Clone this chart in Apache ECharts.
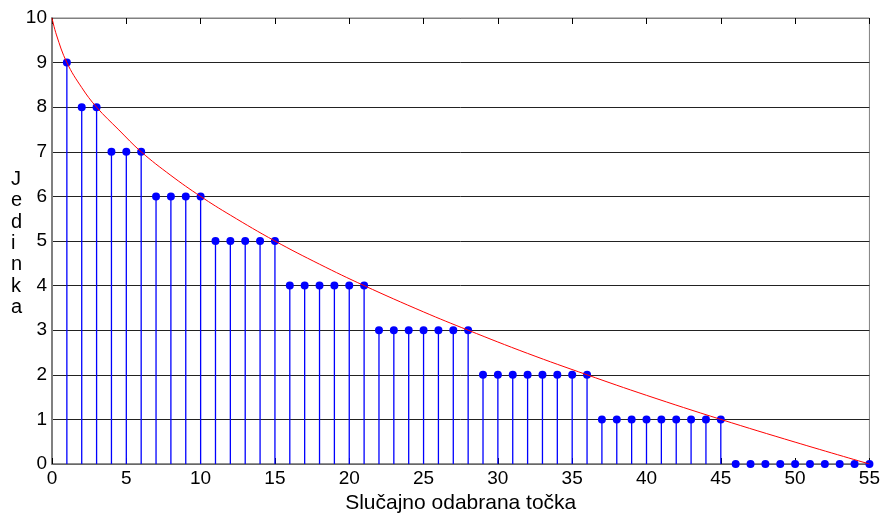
<!DOCTYPE html>
<html>
<head>
<meta charset="utf-8">
<script src="https://cdn.jsdelivr.net/npm/echarts@6/dist/echarts.min.js"></script>
<style>html,body{margin:0;padding:0;background:#fff}#c{width:883px;height:519px}</style>
</head>
<body>
<div id="c"></div>
<script>
// Random picked point (x) and individual (stem height)
var points = [1,2,3,4,5,6,7,8,9,10,11,12,13,14,15,16,17,18,19,20,21,22,23,24,25,26,27,28,29,30,31,32,33,34,35,36,37,38,39,40,41,42,43,44,45,46,47,48,49,50,51,52,53,54,55];
var values = [9,8,8,7,7,7,6,6,6,6,5,5,5,5,5,4,4,4,4,4,4,3,3,3,3,3,3,3,2,2,2,2,2,2,2,2,1,1,1,1,1,1,1,1,1,0,0,0,0,0,0,0,0,0,0];
// Red curve
var curveX = [0, 0.3, 1, 2, 3, 4.5, 6, 8, 10, 12, 15, 18, 21, 25, 28, 32, 36, 40, 45, 50, 55];
var curveY = [10, 9.62, 9, 8.44, 8, 7.49, 7, 6.47, 6, 5.58, 5, 4.48, 4, 3.41, 3, 2.48, 2, 1.54, 1, 0.49, 0];
var xTicks = [0,5,10,15,20,25,30,35,40,45,50,55];
var yTicks = [0,1,2,3,4,5,6,7,8,9,10];

var stemData = points.map(function(p,i){return [p, values[i]];});
var curveData = curveX.map(function(x,i){return [x, curveY[i]];});

var chart = echarts.init(document.getElementById('c'));
var font = 'Liberation Sans, Arial, sans-serif';
chart.setOption({
  animation: false,
  backgroundColor: '#fff',
  grid: {left: 52, right: 12, top: 18, bottom: 53, show: true, borderColor: '#808080', borderWidth: 1},
  xAxis: [{
    type: 'value', min: 0, max: 55, interval: 5, position: 'bottom',
    axisLine: {show: true, lineStyle: {color: '#808080', width: 1.5}},
    axisTick: {show: true, inside: true, length: 6, lineStyle: {color: '#000'}},
    axisLabel: {fontSize: 19, color: '#000', fontFamily: font, margin: 5},
    splitLine: {show: false},
    name: 'Slučajno odabrana točka', nameLocation: 'middle', nameGap: 29,
    nameTextStyle: {fontSize: 21, color: '#000', fontFamily: font}
  }, {
    type: 'value', min: 0, max: 55, interval: 5, position: 'top',
    axisLine: {show: true, lineStyle: {color: '#808080'}},
    axisTick: {show: true, inside: true, length: 6, lineStyle: {color: '#000'}},
    axisLabel: {show: false}, splitLine: {show: false}
  }],
  yAxis: {
    type: 'value', min: 0, max: 10, interval: 1,
    axisLine: {show: true, lineStyle: {color: '#808080', width: 2}},
    axisTick: {show: false},
    axisLabel: {fontSize: 19, color: '#000', fontFamily: font, margin: 5},
    splitLine: {show: true, lineStyle: {color: '#222', width: 1}}
  },
  graphic: [{
    type: 'text', left: 11, top: 169,
    style: {text: 'J\ne\nd\ni\nn\nk\na', fontSize: 20, lineHeight: 21.3, fill: '#000', fontFamily: font, align: 'center'}
  }],
  series: [{
    type: 'bar', data: stemData, barWidth: 1.3, itemStyle: {color: '#0000ff'}, z: 2
  }, {
    type: 'scatter', data: stemData, symbol: 'circle', symbolSize: 8, itemStyle: {color: '#0000ff', opacity: 1}, z: 3
  }, {
    type: 'line', data: curveData, smooth: 0.4, showSymbol: false, lineStyle: {color: '#ff0000', width: 1}, z: 4
  }]
});
</script>
</body>
</html>
